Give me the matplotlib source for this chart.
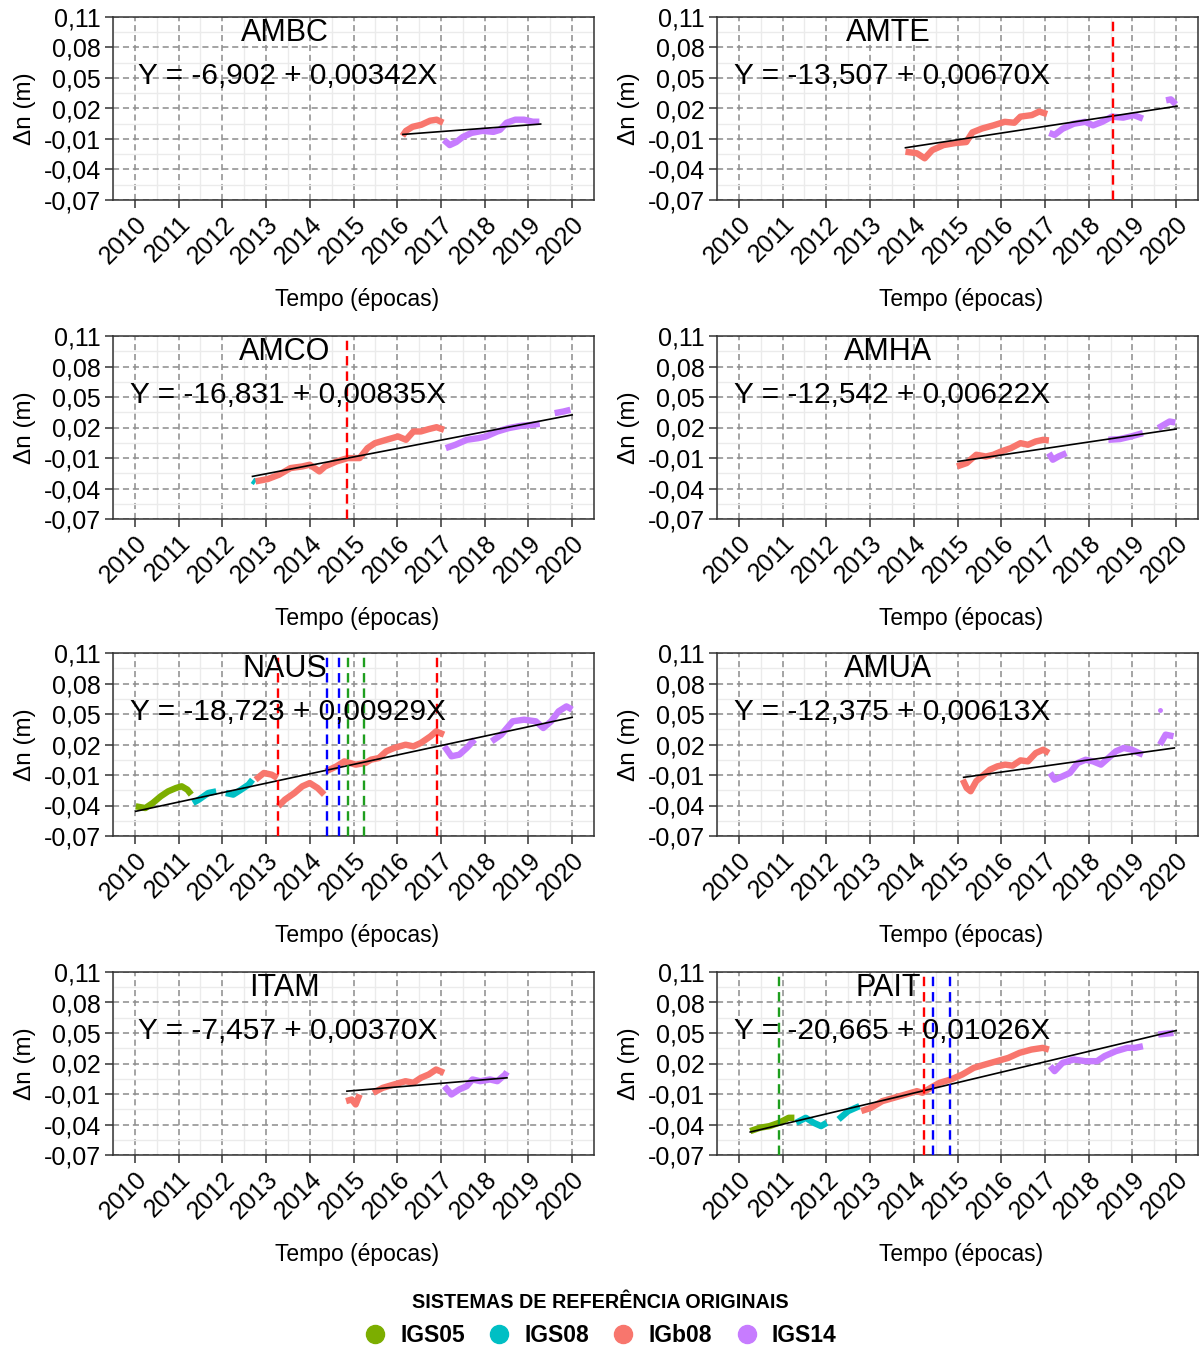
import numpy as np
import matplotlib
matplotlib.use("Agg")
import matplotlib.pyplot as plt
from matplotlib.lines import Line2D

plt.rcParams['font.family'] = ['Liberation Sans', 'DejaVu Sans']

nan = np.nan

# --- Reference systems ---
SYSTEMS = ["IGS05", "IGS08", "IGb08", "IGS14"]
COLORS = {"IGS05": "#7CAE00", "IGS08": "#00BFC4", "IGb08": "#F8766D", "IGS14": "#C77CFF"}

Y_TICKS = [-0.07, -0.04, -0.01, 0.02, 0.05, 0.08, 0.11]
X_TICKS = list(range(2010, 2021))

# --- AMBC ---
ambc_igb08_t = [2016.12, 2016.2, 2016.35, 2016.55, 2016.75, 2016.9, 2017.05]
ambc_igb08_n = [-0.007, -0.002, 0.002, 0.004, 0.008, 0.009, 0.006]
ambc_igs14_t = [2017.07, 2017.2, 2017.35, 2017.5, 2017.7, 2017.95, 2018.2, 2018.35, 2018.5, 2018.7, 2018.9, 2019.1, 2019.25]
ambc_igs14_n = [-0.011, -0.016, -0.013, -0.008, -0.004, -0.002, -0.003, -0.001, 0.006, 0.009, 0.009, 0.007, 0.007]
ambc_fit_t = [2016.13, 2019.28]
ambc_fit_n = [-0.0055, 0.0047]

# --- AMTE ---
amte_igb08_t = [2013.81, 2014.07, 2014.25, 2014.42, 2014.68, 2014.95, 2015.2, 2015.34, 2015.56, 2015.82, 2016.08, 2016.3, 2016.44, 2016.7, 2016.87, 2017.05]
amte_igb08_n = [-0.0225, -0.024, -0.029, -0.021, -0.016, -0.014, -0.013, -0.0035, 0.0003, 0.0034, 0.0069, 0.006, 0.012, 0.0135, 0.017, 0.0145]
amte_igs14_t = [2017.1, 2017.22, 2017.4, 2017.66, 2017.92, 2018.1, 2018.31, 2018.53, 2018.79, 2019.03, 2019.24, nan, 2019.77, 2019.88, 2019.99]
amte_igs14_n = [-0.004, -0.006, 0.0, 0.005, 0.0069, 0.0034, 0.0069, 0.012, 0.011, 0.0135, 0.010, nan, 0.028, 0.029, 0.024]
amte_fit_t = [2013.81, 2020.02]
amte_fit_n = [-0.0186, 0.0223]
amte_breaks = [(2018.56, "red")]

# --- AMCO ---
amco_igs08_t = [2012.69, 2012.76]
amco_igs08_n = [-0.032, -0.034]
amco_igb08_t = [2012.76, 2013.04, 2013.3, 2013.56, 2013.83, 2014.0, 2014.22, 2014.35, 2014.61, 2014.87, 2015.14, 2015.32, 2015.49, 2015.75, 2016.02, 2016.2, 2016.37, 2016.54, 2016.72, 2016.9, 2017.07]
amco_igb08_n = [-0.033, -0.0307, -0.0264, -0.0199, -0.0183, -0.0166, -0.0232, -0.0183, -0.0134, -0.0101, -0.0101, -0.0003, 0.0046, 0.0079, 0.0112, 0.0079, 0.0161, 0.0161, 0.0184, 0.0203, 0.0177]
amco_igs14_t = [2017.11, 2017.33, 2017.59, 2017.85, 2018.03, 2018.29, 2018.55, 2018.82, 2019.08, 2019.26, nan, 2019.6, 2019.8, 2019.96]
amco_igs14_n = [-0.0003, 0.003, 0.0079, 0.0095, 0.0112, 0.0161, 0.0194, 0.0216, 0.0226, 0.0236, nan, 0.0341, 0.0357, 0.0374]
amco_fit_t = [2012.69, 2020.0]
amco_fit_n = [-0.0281, 0.0324]
amco_breaks = [(2014.86, "red")]

# --- AMHA ---
amha_igb08_t = [2014.99, 2015.21, 2015.43, 2015.65, 2015.82, 2016.0, 2016.22, 2016.44, 2016.61, 2016.79, 2016.96, 2017.09]
amha_igb08_n = [-0.0183, -0.015, -0.0068, -0.0085, -0.0068, -0.0035, -0.0003, 0.0046, 0.003, 0.0063, 0.0079, 0.0073]
amha_igs14_t = [2017.09, 2017.18, 2017.31, 2017.49, nan, 2018.45, 2018.71, 2018.97, 2019.24, nan, 2019.59, 2019.85, 2019.98]
amha_igs14_n = [-0.0052, -0.0117, -0.0085, -0.0052, nan, 0.0079, 0.0086, 0.0112, 0.0145, nan, 0.0194, 0.0259, 0.0249]
amha_fit_t = [2015.01, 2020.0]
amha_fit_n = [-0.0134, 0.0185]

# --- NAUS ---
naus_igs05_t = [2010.02, 2010.24, 2010.41, 2010.59, 2010.76, 2010.94, 2011.07, 2011.2, 2011.29]
naus_igs05_n = [-0.0408, -0.0425, -0.0375, -0.031, -0.0261, -0.0228, -0.0211, -0.0244, -0.0293]
naus_igs08_t = [2011.33, 2011.46, 2011.68, 2011.86, nan, 2012.08, 2012.25, 2012.43, 2012.6, 2012.69]
naus_igs08_n = [-0.0375, -0.0343, -0.0277, -0.0261, nan, -0.0277, -0.0293, -0.0244, -0.0195, -0.0146]
naus_igb08_t = [2012.76, 2012.95, 2013.13, 2013.26, nan, 2013.28, 2013.43, 2013.65, 2013.83, 2014.0, 2014.18, 2014.33, nan,
                2014.37, 2014.61, 2014.79, 2015.05, 2015.27, 2015.4, 2015.58, 2015.75, 2015.93, 2016.19, 2016.37, 2016.54, 2016.76, 2016.89, 2017.07]
naus_igb08_n = [-0.0146, -0.008, -0.0097, -0.013, nan, -0.0408, -0.0343, -0.0277, -0.0211, -0.0179, -0.0228, -0.0293, nan,
                -0.0064, -0.0015, 0.0034, 0.0002, 0.0018, 0.0051, 0.0067, 0.0133, 0.0166, 0.0198, 0.0182, 0.0215, 0.028, 0.0329, 0.0297]
naus_igs14_t = [2017.08, 2017.24, 2017.42, 2017.59, 2017.77, nan, 2018.16, 2018.38, 2018.64, 2018.9, 2019.17, 2019.34, 2019.52, 2019.69, 2019.87, 2020.0]
naus_igs14_n = [0.0182, 0.0084, 0.01, 0.0166, 0.0248, nan, 0.0231, 0.0297, 0.0428, 0.0444, 0.0428, 0.0362, 0.0428, 0.0526, 0.0575, 0.0543]
naus_fit_t = [2010.02, 2020.0]
naus_fit_n = [-0.0457, 0.0467]
naus_breaks = [(2013.27, "red"), (2014.40, "blue"), (2014.67, "blue"), (2014.88, "green"), (2015.23, "green"), (2016.90, "red")]

# --- AMUA ---
amua_igb08_t = [2015.12, 2015.21, 2015.3, 2015.43, 2015.56, 2015.74, 2015.91, 2016.09, 2016.26, 2016.44, 2016.61, 2016.79, 2016.96, 2017.09]
amua_igb08_n = [-0.0146, -0.0228, -0.026, -0.016, -0.0113, -0.0048, -0.0015, 0.0002, -0.0008, 0.0044, 0.0034, 0.0116, 0.0149, 0.0116]
amua_igs14_t = [2017.12, 2017.22, 2017.4, 2017.57, 2017.75, 2017.93, 2018.1, 2018.28, 2018.45, 2018.62, 2018.8, 2018.98, 2019.15, 2019.24, nan, 2019.63, 2019.76, 2019.94]
amua_igs14_n = [-0.008, -0.0146, -0.0113, -0.008, 0.0018, 0.005, 0.0034, 0.0002, 0.0067, 0.0133, 0.0166, 0.015, 0.0116, 0.010, nan, 0.0198, 0.0297, 0.0281]
amua_outlier_t = [2019.63]
amua_outlier_n = [0.0543]
amua_fit_t = [2015.14, 2019.96]
amua_fit_n = [-0.0123, 0.0166]

# --- ITAM ---
itam_igb08_t = [2014.83, 2014.96, 2015.05, 2015.14, nan, 2015.45, 2015.67, 2015.93, 2016.19, 2016.37, 2016.54, 2016.72, 2016.89, 2017.07]
itam_igb08_n = [-0.017, -0.0154, -0.0203, -0.0105, nan, -0.0088, -0.0039, -0.0006, 0.0026, 0.001, 0.0059, 0.0092, 0.0141, 0.0108]
itam_igs14_t = [2017.08, 2017.24, 2017.42, 2017.59, 2017.72, 2017.9, 2018.12, 2018.29, 2018.47, 2018.51]
itam_igs14_n = [-0.0023, -0.0105, -0.0055, -0.0023, 0.0043, 0.0026, 0.0043, 0.0026, 0.0092, 0.0118]
itam_fit_t = [2014.85, 2018.51]
itam_fit_n = [-0.0072, 0.0059]

# --- PAIT ---
pait_igs05_t = [2010.26, 2010.48, 2010.7, 2010.92, 2011.14, 2011.27]
pait_igs05_n = [-0.0465, -0.0432, -0.0416, -0.0383, -0.0334, -0.0334]
pait_igs08_t = [2011.31, 2011.53, 2011.71, 2011.88, 2012.01, nan, 2012.28, 2012.5, 2012.67, 2012.76]
pait_igs08_n = [-0.0383, -0.0334, -0.0383, -0.0416, -0.0383, nan, -0.035, -0.0268, -0.0236, -0.0219]
pait_igb08_t = [2012.8, 2013.02, 2013.28, 2013.55, 2013.81, 2014.07, 2014.2, 2014.45, 2014.59, 2014.85, 2015.11, 2015.37, 2015.63, 2015.9, 2016.16, 2016.42, 2016.69, 2016.95, 2017.09]
pait_igb08_n = [-0.0268, -0.0236, -0.017, -0.0137, -0.0105, -0.0072, -0.0088, -0.0023, 0.001, 0.0043, 0.0092, 0.0157, 0.019, 0.0223, 0.0255, 0.0305, 0.0337, 0.0354, 0.0337]
pait_igs14_t = [2017.12, 2017.22, 2017.4, 2017.66, 2017.92, 2018.19, 2018.36, 2018.62, 2018.88, 2019.06, 2019.24, nan, 2019.59, 2019.94]
pait_igs14_n = [0.0174, 0.0125, 0.0206, 0.0239, 0.0223, 0.0223, 0.0272, 0.0321, 0.0354, 0.0354, 0.037, nan, 0.0485, 0.0501]
pait_fit_t = [2010.26, 2020.0]
pait_fit_n = [-0.0474, 0.0524]
pait_breaks = [(2010.92, "green"), (2014.23, "red"), (2014.44, "blue"), (2014.83, "blue")]

BREAK_COLORS = {"red": "#FF0000", "blue": "#0000FF", "green": "#1E9E1E"}

PANELS = [
    ("AMBC", "Y = -6,902 + 0,00342X",
     [("IGb08", ambc_igb08_t, ambc_igb08_n), ("IGS14", ambc_igs14_t, ambc_igs14_n)],
     (ambc_fit_t, ambc_fit_n), [], None),
    ("AMTE", "Y = -13,507 + 0,00670X",
     [("IGb08", amte_igb08_t, amte_igb08_n), ("IGS14", amte_igs14_t, amte_igs14_n)],
     (amte_fit_t, amte_fit_n), amte_breaks, None),
    ("AMCO", "Y = -16,831 + 0,00835X",
     [("IGS08", amco_igs08_t, amco_igs08_n), ("IGb08", amco_igb08_t, amco_igb08_n), ("IGS14", amco_igs14_t, amco_igs14_n)],
     (amco_fit_t, amco_fit_n), amco_breaks, None),
    ("AMHA", "Y = -12,542 + 0,00622X",
     [("IGb08", amha_igb08_t, amha_igb08_n), ("IGS14", amha_igs14_t, amha_igs14_n)],
     (amha_fit_t, amha_fit_n), [], None),
    ("NAUS", "Y = -18,723 + 0,00929X",
     [("IGS05", naus_igs05_t, naus_igs05_n), ("IGS08", naus_igs08_t, naus_igs08_n),
      ("IGb08", naus_igb08_t, naus_igb08_n), ("IGS14", naus_igs14_t, naus_igs14_n)],
     (naus_fit_t, naus_fit_n), naus_breaks, None),
    ("AMUA", "Y = -12,375 + 0,00613X",
     [("IGb08", amua_igb08_t, amua_igb08_n), ("IGS14", amua_igs14_t, amua_igs14_n)],
     (amua_fit_t, amua_fit_n), [], ("IGS14", amua_outlier_t, amua_outlier_n)),
    ("ITAM", "Y = -7,457 + 0,00370X",
     [("IGb08", itam_igb08_t, itam_igb08_n), ("IGS14", itam_igs14_t, itam_igs14_n)],
     (itam_fit_t, itam_fit_n), [], None),
    ("PAIT", "Y = -20,665 + 0,01026X",
     [("IGS05", pait_igs05_t, pait_igs05_n), ("IGS08", pait_igs08_t, pait_igs08_n),
      ("IGb08", pait_igb08_t, pait_igb08_n), ("IGS14", pait_igs14_t, pait_igs14_n)],
     (pait_fit_t, pait_fit_n), pait_breaks, None),
]

# --- Layout (pixels of the 1199x1345 figure) ---
W, H = 1199, 1345
COL_LEFT = [113, 717]
PANEL_W = 481
ROW_TOP = [17, 336, 653, 972]
PANEL_H = 183
DASH = (0, (4, 2.5))

fig = plt.figure(figsize=(W / 100, H / 100), dpi=100)


def draw_panel(ax, name, equation, segments, fit, breaks, outlier):
    for system, t, n in segments:
        ax.plot(t, n, color=COLORS[system], lw=4.6, solid_capstyle="butt",
                solid_joinstyle="round", zorder=2)
    if outlier is not None:
        system, t, n = outlier
        ax.plot(t, n, "o", color=COLORS[system], ms=2.5, zorder=2)
    ax.plot(fit[0], fit[1], color="black", lw=1.2, zorder=3)
    for x, c in breaks:
        ax.axvline(x, color=BREAK_COLORS[c], lw=1.7, ls=DASH, zorder=4)

    ax.text(2013.42, 0.0945, name, fontsize=22, ha="center", va="center", zorder=5)
    ax.text(2013.5, 0.0515, equation, fontsize=21.5, ha="center", va="center", zorder=5)

    ax.set_xlim(2009.5, 2020.5)
    ax.set_ylim(-0.07, 0.11)
    ax.set_xticks(X_TICKS)
    ax.set_xticklabels([str(x) for x in X_TICKS], rotation=45, ha="right", va="top",
                       rotation_mode="anchor", fontsize=18)
    ax.set_yticks(Y_TICKS)
    ax.set_yticklabels([f"{v:.2f}".replace(".", ",") for v in Y_TICKS], fontsize=18)
    ax.set_xticks([x + 0.5 for x in range(2009, 2021)], minor=True)
    ax.set_yticks([v + 0.015 for v in Y_TICKS[:-1]], minor=True)
    ax.tick_params(which="major", length=6, width=1.1, color="#333333", pad=2.5)
    ax.tick_params(which="minor", length=0)
    ax.grid(which="minor", color="#EBEBEB", lw=1.0, ls="-")
    ax.grid(which="major", color="#8C8C8C", lw=1.1, ls=DASH)
    ax.set_axisbelow(True)
    for sp in ax.spines.values():
        sp.set_color("#333333")
        sp.set_linewidth(1.1)

    ax.text(0.508, -0.545, "Tempo (épocas)", transform=ax.transAxes, fontsize=16.5,
            ha="center", va="center")
    ax.text(-0.183, 0.5, "Δn (m)", transform=ax.transAxes, fontsize=17.5,
            ha="center", va="center", rotation=90)


for i, (name, eq, segs, fit, brk, outl) in enumerate(PANELS):
    row, col = divmod(i, 2)
    left = COL_LEFT[col] / W
    bottom = 1 - (ROW_TOP[row] + PANEL_H) / H
    ax = fig.add_axes([left, bottom, PANEL_W / W, PANEL_H / H])
    draw_panel(ax, name, eq, segs, fit, brk, outl)

handles = [Line2D([], [], ls="", marker="o", ms=13, color=COLORS[s]) for s in SYSTEMS]
fig.legend(handles, SYSTEMS, loc="center", bbox_to_anchor=(600 / W, 1 - 1320 / H), ncol=4,
           frameon=False, title="SISTEMAS DE REFERÊNCIA ORIGINAIS",
           title_fontproperties={"weight": "bold", "size": 14.2},
           prop={"weight": "bold", "size": 16.5}, handlelength=1.0, handletextpad=0.6,
           columnspacing=1.0, borderpad=0.2, labelspacing=0.55)

fig.savefig("out.png", dpi=100)
